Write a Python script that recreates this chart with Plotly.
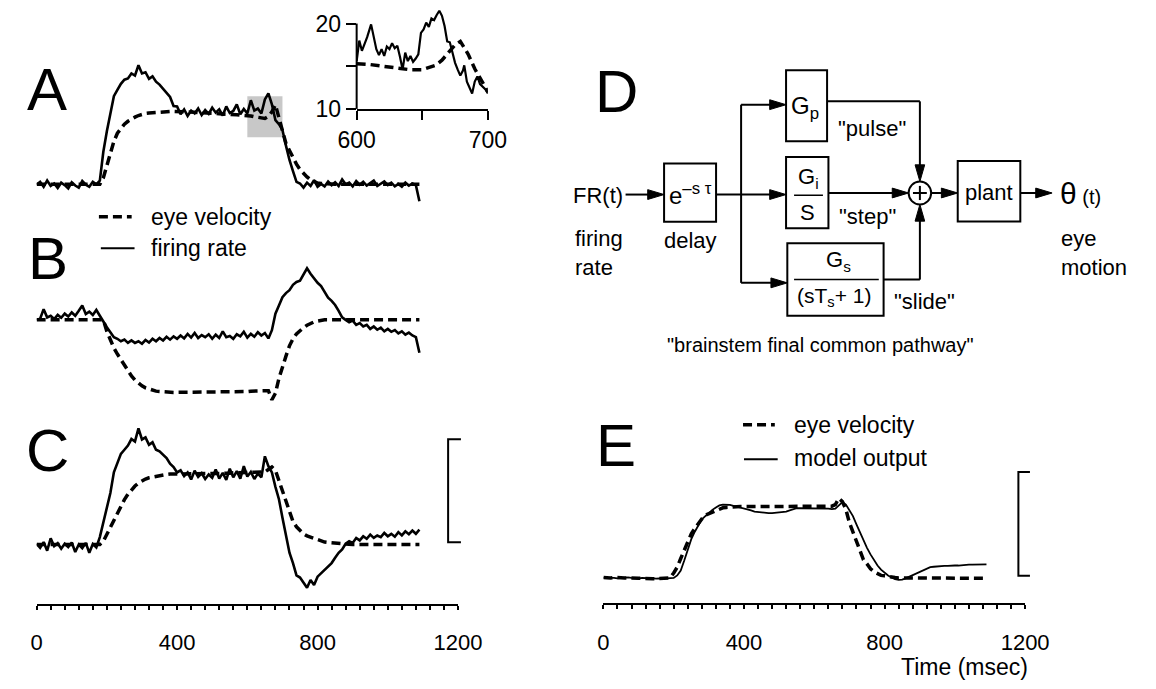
import plotly.graph_objects as go

FONT = "Liberation Sans, Arial, Helvetica, sans-serif"

# ---------------- data ----------------
t = list(range(0, 1100, 10))  # sample times (ms)

fr_A = [-1.5, -0.8, -2.0, -0.5, -1.8, -1.2, -2.3, -1.0, -1.6, -2.4, -0.9, -1.7, -2.2, -0.6, -1.5, -2.0, -0.8, -1.4,
        -0.5, 6.5, 11.5, 16.0, 20.0, 21.5, 23.0, 24.0, 24.3, 25.5, 25.0, 27.5, 25.5, 25.8, 24.2, 24.8, 23.5, 22.8,
        21.8, 20.6, 19.8, 17.6, 17.5, 15.6, 16.8, 15.2, 16.5, 15.8, 17.0, 15.4, 16.6, 15.7, 17.2, 16.0, 16.8, 15.3,
        17.5, 15.9, 16.4, 18.0, 15.6, 16.9, 15.8,
        19.0, 16.5, 17.0, 15.8, 19.2, 20.7, 18.0, 14.2, 13.2, 11.8,
        8.0, 4.5, 1.8, -0.8, -1.2, -2.2, -1.0, -1.8, -0.4, -2.0, -1.3, -1.9, -0.7, -1.6, -0.9, -1.8, -0.2, -1.4,
        -1.0, -1.9, -0.6, -1.5, -0.8, -1.7, -1.1, -0.5, -1.8, -1.2, -0.7, -1.6, -1.0, -1.9, -1.3, -2.0, -1.0, -1.7,
        -1.2, -1.6, -5.5]
eye_A = [-1.4] * 19 + [
        0.2, 3.3, 6.3, 9.0, 11.0, 12.2, 13.2, 13.9, 14.5, 14.9, 15.3, 15.6, 15.8, 15.9, 16.0, 16.1, 16.2, 16.2,
        16.3, 16.3, 16.3, 16.3,
        16.3, 16.2, 16.2, 16.1, 16.1, 16.0, 16.0, 15.9, 15.9, 15.8, 15.8, 15.7, 15.7, 15.6, 15.6, 15.5, 15.5, 15.4,
        15.4, 15.3,
        15.2, 15.0, 14.8, 14.6, 14.6, 15.1, 16.2, 17.9, 14.8, 12.0,
        8.5, 6.8, 5.0, 3.5, 2.2, 1.2, 0.4, -0.3, -0.8, -1.1, -1.2, -1.3] + [-1.4] * 27

fr_B = [0.0, 0.3, 2.6, 0.6, 1.0, 0.2, 1.2, 0.5, 1.5, 0.8, 1.8, 1.0, 2.2, 3.5, 1.4, 2.0, 1.2, 2.4,
        1.0, -0.5, -1.8, -3.0, -4.2, -4.6, -5.2, -4.8, -5.6, -5.0, -5.6, -5.2, -5.8, -4.9, -5.5, -4.6, -5.2, -4.4,
        -5.0, -4.1, -4.8, -4.0, -4.6,
        -3.8, -4.5, -3.4, -4.3, -3.2, -4.4, -3.7, -4.2, -3.5, -4.6, -3.6, -4.4, -2.8, -4.2, -3.9, -4.6, -3.5, -4.0,
        -2.9, -4.3, -3.4, -4.1, -3.0, -3.8, -3.2, -4.5, -2.5,
        1.5, 3.5, 5.5, 6.5, 7.2, 8.5, 9.2, 9.5, 11.0, 12.5, 11.2, 10.0, 9.0, 8.2, 6.8, 5.4, 4.6, 3.6, 2.2, 0.6,
        0.0, -0.6,
        -0.2, -1.2, -0.8, -1.6, -1.2, -2.2, -1.6, -2.4, -1.9, -2.8, -2.2, -2.9, -2.5, -3.3, -2.8, -3.6, -3.1, -3.8,
        -4.2, -8.0]
eye_B = [0.0] * 20 + [
        -2.8, -5.0, -6.8, -8.3, -9.7, -11.0, -12.4, -13.6, -14.6, -15.4, -16.0, -16.5, -16.8, -17.1, -17.3, -17.4,
        -17.5, -17.5, -17.6, -17.6, -17.6,
        -17.6, -17.6, -17.6, -17.6, -17.6, -17.6, -17.6, -17.6, -17.5, -17.5, -17.5, -17.5, -17.5, -17.5, -17.5,
        -17.4, -17.4, -17.4, -17.4, -17.4, -17.3, -17.3, -17.3, -17.2, -17.1,
        -17.2, -19.4, -17.8, -14.2, -11.3, -8.8, -6.3, -4.6, -3.4, -2.6, -1.9, -1.3, -0.8, -0.5, -0.3, -0.1] + [0.0] * 28

fr_C = [0.2, -0.8, 0.6, -1.5, 1.5, -0.4, 0.3, -1.0, 0.2, -0.6, 0.5, -1.8, 0.0, -0.9, 0.4, -2.0, 0.1, -0.7,
        1.8, 5.5, 9.0, 12.5, 17.5, 19.8, 22.0, 23.0, 24.0, 25.6, 25.0, 28.2, 25.5, 26.0, 24.2, 24.8, 23.0, 22.6,
        21.8, 21.0, 19.6, 18.8, 17.5,
        18.0, 16.6, 17.5, 15.8, 17.9, 16.4, 17.3, 15.9, 17.0, 16.2, 18.2, 16.0, 17.4, 15.7, 18.4, 16.3, 17.8, 16.0,
        19.0, 16.5, 17.6, 15.9, 17.2, 16.3,
        21.4, 19.0, 17.5, 14.0, 11.0, 6.5, 2.0, -2.0, -4.5, -7.5, -8.0, -9.2, -10.5, -8.6, -9.8, -7.8, -7.0, -6.0,
        -5.2, -4.5, -3.2, -2.0, -1.2, 0.2, 0.8,
        0.4, 1.6, 1.0, 2.0, 1.4, 2.4, 1.6, 2.2, 1.8, 2.8, 2.0, 2.6, 1.9, 3.0, 2.2, 3.2, 2.5, 3.4, 2.6, 3.6]
eye_C = [0.0] * 19 + [
        0.8, 2.5, 4.3, 6.0, 7.8, 9.4, 10.9, 12.2, 13.3, 14.2, 14.9, 15.5, 15.9, 16.2, 16.4, 16.6, 16.8, 16.9, 17.0,
        17.1, 17.1, 17.2,
        17.2, 17.2, 17.2, 17.2, 17.3, 17.3, 17.3, 17.3, 17.3, 17.3, 17.3, 17.3, 17.3, 17.3, 17.3, 17.4, 17.4, 17.4,
        17.4, 17.4, 17.4, 17.4, 17.4, 17.5, 17.6,
        18.2, 18.8, 18.0, 15.5, 12.5, 10.0, 7.5, 5.6, 4.3, 3.3, 2.6, 2.1, 1.8, 1.4, 1.0, 0.8, 0.6, 0.5, 0.4, 0.3,
        0.2, 0.1] + [0.0] * 22

model_E = [0.0, 0.0, 0.1, 0.0, -0.1, 0.0, 0.0, 0.1, 0.0, -0.1, -0.1, 0.0, 0.0, -0.1, -0.1, -0.2, -0.1, -0.2,
           -0.1, -0.1, 0.0,
           0.6, 1.8, 4.2, 6.7, 9.4, 11.2, 12.8, 14.2, 15.0, 15.8, 16.5, 17.1, 17.6, 17.8, 17.8, 17.7, 17.5, 17.3,
           17.1, 16.9, 16.6, 16.4, 16.1, 16.0, 15.8, 15.7, 15.7, 15.7, 15.8, 15.9, 16.0, 16.1, 16.4, 16.7, 16.9,
           16.9,
           16.9, 16.9, 16.9, 16.9, 16.8, 16.8, 16.8, 16.8, 16.7, 16.8,
           17.6, 18.4, 17.8, 16.5, 15.0, 13.0, 11.0, 9.0, 7.3, 5.7, 4.2, 3.0, 2.0, 1.2, 0.6, 0.1, -0.3, -0.5,
           -0.4, -0.1, 0.3, 0.7, 1.1, 1.6, 2.0, 2.4, 2.6, 2.7, 2.8, 2.9, 2.9, 2.9, 3.0, 3.0, 3.0, 3.1, 3.1, 3.2,
           3.2, 3.2, 3.3, 3.3, 3.3]
eye_E = [0.1, 0.0, 0.0, 0.1, 0.0, -0.1, 0.0, 0.0, -0.1, 0.0, -0.1, -0.1, -0.2, -0.1, -0.2, -0.2, -0.1, -0.2,
         -0.1, 0.0,
         1.2, 2.6, 4.7, 6.8, 8.5, 10.7, 12.0, 13.3, 14.3, 15.2, 15.6, 16.0, 16.4, 16.8, 17.0, 17.1, 17.2,
         17.2] + [17.3] * 27 + [17.4,
         17.8, 19.3, 18.5, 16.6, 13.4, 11.2, 8.5, 6.3, 4.4, 3.4, 2.2, 1.5, 1.0, 0.6, 0.5, 0.3, 0.2, 0.1, 0.0,
         0.0, -0.1, 0.0, -0.1, -0.1, 0.0, -0.1, -0.1, 0.0, -0.1, -0.1, -0.1, 0.0, -0.1, -0.1, 0.0, -0.1, -0.1,
         -0.1, 0.0, -0.1, -0.1, 0.0, -0.1, -0.1]

# inset (600-700 ms of panel A, finer sampling)
t_inset_fr = [600, 602, 604, 606, 608, 611, 613, 615, 617, 619, 621, 623, 625, 627, 629, 631, 633, 635, 637, 639,
              641, 643, 645, 647, 649, 651, 653, 655, 657, 659, 661, 663, 665, 667, 669, 671, 673, 675, 677, 679,
              681, 682, 684, 686, 688, 690, 692, 694, 696, 698, 700]
fr_inset = [15.6, 18.0, 16.8, 17.5, 18.4, 19.9, 18.6, 17.0, 16.3, 17.0, 16.2, 17.3, 17.0, 17.7, 17.1, 17.4, 16.1,
            14.6, 16.6, 15.6, 16.2, 15.5, 15.9, 16.4, 18.9, 19.3, 20.1, 19.6, 20.6, 20.4, 21.0, 21.5, 20.9, 19.7,
            17.9, 17.8, 16.6, 15.4, 14.6, 13.9, 14.5, 15.1, 13.2, 12.5, 11.8, 13.2, 13.8, 12.9, 12.6, 12.3, 11.8]
t_inset_eye = [600, 605, 610, 620, 630, 640, 650, 655, 660, 665, 670, 675, 679, 685, 690, 695, 700]
eye_inset = [15.3, 15.3, 15.2, 15.0, 14.8, 14.6, 14.6, 14.8, 15.1, 15.7, 16.6, 17.5, 17.9, 16.4, 14.7, 13.3, 12.0]

x_labelvals = [0, 400, 800, 1200]
x_majorticks = [0, 200, 400, 600, 800, 1000, 1200]
x_minorticks = list(range(0, 1201, 40))
inset_xticks = [600, 650, 700]
inset_xtext = ["600", "", "700"]
inset_yticks = [10, 15, 20]
inset_ytext = ["10", "", "20"]

# ---------------- figure ----------------
W, H = 1156, 689


def fx(px):
    return px / W


def fy(py):
    return 1 - py / H


DASH = "9px,5px"
fig = go.Figure()


def add_pair(xa, ya, ts, eye, fr, eye_t=None, frw=2.6):
    fig.add_trace(go.Scatter(x=eye_t if eye_t is not None else ts, y=eye, mode="lines", xaxis=xa, yaxis=ya,
                             line=dict(color="black", width=3.5, dash=DASH), showlegend=False, hoverinfo="skip"))
    fig.add_trace(go.Scatter(x=ts, y=fr, mode="lines", xaxis=xa, yaxis=ya,
                             line=dict(color="black", width=frw), showlegend=False, hoverinfo="skip"))


add_pair("x", "y", t, eye_A, fr_A)
add_pair("x2", "y2", t, eye_B, fr_B)
add_pair("x3", "y3", t, eye_C, fr_C)
add_pair("x4", "y4", t_inset_fr, eye_inset, fr_inset, eye_t=t_inset_eye, frw=2.2)
add_pair("x5", "y5", t, eye_E, model_E, frw=1.8)
fig.add_trace(go.Scatter(x=[], y=[], xaxis="x6", yaxis="y6", showlegend=False))

hidden = dict(visible=False, showgrid=False, zeroline=False)
xdom_left = [fx(18.3), fx(456)]
xdom_E = [fx(607), fx(1045)]
TF = dict(size=22, family=FONT, color="black")
# minor-tick axis (with labels) and long-tick overlay axis
time_axis = dict(range=[0, 1200], showline=True, linecolor="black", linewidth=2, showgrid=False, zeroline=False,
                 tickmode="array", tickvals=x_minorticks,
                 ticktext=[str(v) if v in x_labelvals else "" for v in x_minorticks],
                 ticks="outside", ticklen=4, tickwidth=2, tickcolor="black", tickfont=TF, ticklabelstandoff=14)
long_ticks = dict(range=[0, 1200], showline=False, showgrid=False, zeroline=False, tickmode="array",
                  tickvals=x_majorticks, showticklabels=False, ticks="outside", ticklen=9, tickwidth=2,
                  tickcolor="black")

fig.update_layout(
    width=W, height=H, margin=dict(l=0, r=0, t=0, b=0), paper_bgcolor="white",
    plot_bgcolor="rgba(0,0,0,0)", showlegend=False,
    xaxis=dict(domain=xdom_left, range=[0, 1200], anchor="y", **hidden),
    yaxis=dict(domain=[fy(210), fy(55)], range=[-6.67, 30.24], anchor="x", **hidden),
    xaxis2=dict(domain=xdom_left, range=[0, 1200], anchor="y2", **hidden),
    yaxis2=dict(domain=[fy(415), fy(240)], range=[-21.19, 20.48], anchor="x2", **hidden),
    xaxis3=dict(domain=xdom_left, anchor="y3", **time_axis),
    yaxis3=dict(domain=[fy(615.7), fy(420)], range=[-14.45, 32.14], anchor="x3", **hidden),
    xaxis4=dict(domain=[fx(350.7), fx(487)], range=[600, 700], anchor="y4", showline=True, linecolor="black",
                linewidth=2, showgrid=False, zeroline=False, tickmode="array", tickvals=inset_xticks,
                ticktext=inset_xtext, ticks="outside", ticklen=9, tickwidth=2, tickcolor="black",
                tickfont=dict(size=23, family=FONT, color="black")),
    yaxis4=dict(domain=[fy(111), fy(5)], range=[10, 22.18], anchor="x4", showline=False, showgrid=False,
                zeroline=False, tickmode="array", tickvals=inset_yticks, ticktext=inset_ytext, ticks="outside",
                ticklen=10, tickwidth=2, tickcolor="black", tickfont=dict(size=23, family=FONT, color="black")),
    xaxis5=dict(domain=xdom_E, anchor="y5", **time_axis),
    yaxis5=dict(domain=[fy(615), fy(480)], range=[-6.19, 25.95], anchor="x5", **hidden),
    xaxis6=dict(domain=[0, 1], range=[0, W], anchor="y6", **hidden),
    yaxis6=dict(domain=[0, 1], range=[H, 0], anchor="x6", **hidden),
    xaxis7=dict(domain=xdom_left, anchor="y3", overlaying="x3", **long_ticks),
    xaxis8=dict(domain=xdom_E, anchor="y5", overlaying="x5", **long_ticks),
)

shapes = []
annos = []
BLK = "black"


def line(x0, y0, x1, y1, w=2, dash=None):
    shapes.append(dict(type="line", xref="x6", yref="y6", x0=x0, y0=y0, x1=x1, y1=y1,
                       line=dict(color=BLK, width=w, dash=dash)))


def rect(x0, y0, x1, y1):
    shapes.append(dict(type="rect", xref="x6", yref="y6", x0=x0, y0=y0, x1=x1, y1=y1,
                       line=dict(color=BLK, width=2), fillcolor="rgba(0,0,0,0)"))


def head(xt, yt, d, L=17, hw=5):
    if d == "r":
        p = f"M{xt},{yt} L{xt - L},{yt - hw} L{xt - L},{yt + hw} Z"
    elif d == "d":
        p = f"M{xt},{yt} L{xt - hw},{yt - L} L{xt + hw},{yt - L} Z"
    else:
        p = f"M{xt},{yt} L{xt - hw},{yt + L} L{xt + hw},{yt + L} Z"
    shapes.append(dict(type="path", xref="x6", yref="y6", path=p, fillcolor=BLK, line=dict(color=BLK, width=1)))


def txt(x, y, s, size=22, xanchor="center", yanchor="middle"):
    annos.append(dict(xref="x6", yref="y6", x=x, y=y, text=s, showarrow=False, xanchor=xanchor, yanchor=yanchor,
                      font=dict(size=size, family=FONT, color=BLK)))


# gray highlight in A (600-700 ms, 10-20)
shapes.append(dict(type="rect", xref="x", yref="y", x0=600, x1=700, y0=10, y1=20, layer="below",
                   fillcolor="rgb(200,200,200)", line=dict(width=0)))
# inset y axis line (10 to 20)
line(350.7, 24, 350.7, 111)

# panel letters
for lab, (lx, ly) in {"A": (29, 91), "B": (30, 263), "C": (30, 459), "D": (621, 93), "E": (620, 454)}.items():
    txt(lx, ly, lab, size=60)

# legend A/B
line(83, 221, 117, 221, w=3.5, dash=DASH)
line(85, 253, 120, 253, w=2)
txt(135, 221, "eye velocity", size=23, xanchor="left")
txt(135, 253, "firing rate", size=23, xanchor="left")

# legend E
line(752, 433, 785, 433, w=3.5, dash=DASH)
line(753, 468, 788, 468, w=2)
txt(803, 433, "eye velocity", size=23, xanchor="left")
txt(803, 467, "model output", size=23, xanchor="left")
txt(982, 680, "Time (msec)", size=23)

# scale bars
shapes.append(dict(type="path", xref="x6", yref="y6", path="M459,447.7 H445.7 V552.7 H459",
                   line=dict(color=BLK, width=2)))
shapes.append(dict(type="path", xref="x6", yref="y6", path="M1050,481 H1038 V586.7 H1050",
                   line=dict(color=BLK, width=2)))

# ---- block diagram D ----
rect(670, 166.7, 724, 226)        # delay
rect(796.7, 71.7, 839.3, 144)     # Gp
rect(796.7, 160, 840.7, 232.7)    # Gi/S
rect(798, 248, 898, 321.7)        # Gs
rect(975, 164, 1040, 225.7)       # plant
# input
line(630, 198.3, 660, 198.3)
head(670, 198.3, "r")
# delay -> Gi/S, branches
line(724, 198.3, 787, 198.3)
head(796.7, 198.3, "r")
line(750, 106.7, 750, 288.3)
line(750, 106.7, 787, 106.7)
head(796.7, 106.7, "r")
line(750, 288.3, 788, 288.3)
head(798, 288.3, "r")
# outputs to sum
line(839.3, 103.3, 935.7, 103.3)
line(935.7, 103.3, 935.7, 176)
head(935.7, 185, "d")
line(840.7, 196.7, 914, 196.7)
head(924, 196.7, "r")
line(898, 285, 935.7, 285)
line(935.7, 285, 935.7, 217)
head(935.7, 208.4, "u")
# sum junction
shapes.append(dict(type="circle", xref="x6", yref="y6", x0=924, x1=947.4, y0=185, y1=208.4,
                   line=dict(color=BLK, width=2)))
line(928.5, 196.7, 942.9, 196.7)
line(935.7, 189.5, 935.7, 203.9)
# sum -> plant -> theta
line(947.4, 196.7, 965, 196.7)
head(975, 196.7, "r")
line(1040, 196.7, 1063, 196.7)
head(1073, 196.7, "r")
# fraction bars
line(805, 199, 835, 199, w=1.5)
line(805, 285, 893, 285, w=1.5)

# texts in D
txt(601, 199, "FR(t)")
txt(575, 243, "firing", xanchor="left")
txt(575, 273, "rate", xanchor="left")
txt(697, 198, "e<sup>–s τ</sup>", size=24)
txt(697, 245, "delay")
txt(816, 110, "G<sub>p</sub>", size=24)
txt(820, 181, "G<sub>i</sub>", size=22)
txt(819, 217, "S", size=22)
txt(851, 266, "G<sub>s</sub>", size=22)
txt(847, 303, "(sT<sub>s</sub>+ 1)", size=21)
txt(886, 131, "\"pulse\"")
txt(881, 221, "\"step\"")
txt(940, 307, "\"slide\"")
txt(1007.5, 196, "plant")
txt(1079, 197, "<span style='font-size:30px'>θ</span> (t)", size=20, xanchor="left")
txt(1080, 243, "eye", xanchor="left")
txt(1080, 273, "motion", xanchor="left")
txt(832, 352, "\"brainstem final common pathway\"", size=20)

fig.update_layout(shapes=shapes, annotations=annos)
fig.write_html("out.html")
